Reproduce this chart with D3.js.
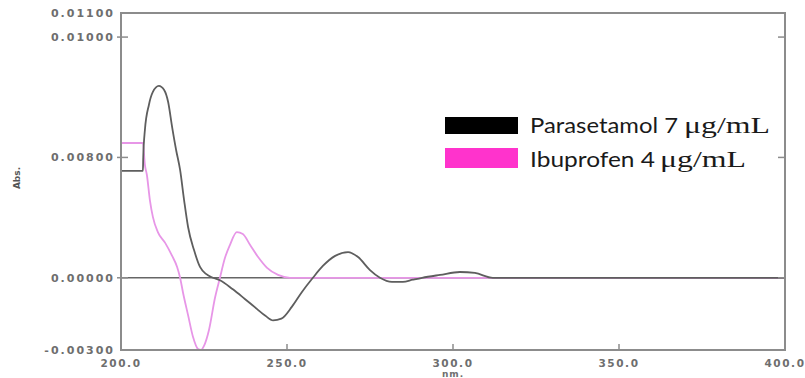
<!DOCTYPE html>
<html><head><meta charset="utf-8">
<script src="https://cdn.jsdelivr.net/npm/d3@7"></script>
<style>body{margin:0;background:#fff}</style>
</head><body><svg id="c" width="805" height="378"></svg>
<script>
const wavelengthTicks=[200,250,300,350,400];
const wavelengthTickLabels=["200.0","250.0","300.0","350.0","400.0"];
const absTicks=[-0.003,0,0.005,0.010,0.011];
const absTickLabels=["-0.00300","0.00000","0.00800","0.01000","0.01100"];
const seriesNames=["Parasetamol 7","Ibuprofen 4"];
const seriesUnits=["μg/mL","μg/mL"];
const seriesColors=["#000000","#ff33cc"];
const paracetamolNm=[200,206.6,206.7,207.2,208.4,209.6,211.4,213.0,214.2,215.4,216.6,217.8,219.0,220.2,222.0,223.8,225.6,227.7,229.8,233.7,237.3,241.0,243.5,245.8,248.3,251.5,254.5,257.8,260.8,264.5,268.4,271.4,275.0,278.0,281.6,284.9,287.9,290.7,296.1,302.1,306.6,312.0,320,340,360,380,400];
const paracetamolAbs=[0.00444,0.00444,0.00500,0.00614,0.00718,0.00772,0.00797,0.00780,0.00730,0.00626,0.00531,0.00448,0.00323,0.00211,0.00115,0.00045,0.00016,0,-0.00010,-0.00048,-0.00088,-0.00130,-0.00158,-0.00177,-0.00170,-0.00120,-0.00059,0,0.00049,0.00091,0.00107,0.00086,0.00032,0,-0.00017,-0.00017,-0.00008,0,0.00012,0.00024,0.00020,0,0,0,0,0,0];
const ibuprofenNm=[200,206.6,207.2,207.8,208.7,209.6,211.1,213.3,215.4,216.9,217.8,218.7,220.2,221.7,223.2,224.1,225.0,226.5,228.3,229.8,231.3,232.8,234.9,236.7,238.9,241.3,244.0,247.3,250.9,260,280,300,320,340,360,380,400];
const ibuprofenAbs=[0.0056,0.0056,0.00469,0.00427,0.00323,0.00253,0.00190,0.00145,0.00091,0.00045,0,-0.00063,-0.00155,-0.00246,-0.00296,-0.00300,-0.00283,-0.00217,-0.00084,0,0.00082,0.00136,0.00190,0.00182,0.00136,0.00086,0.00041,0.00012,0,0,0,0,0,0,0,0,0];

const svg=d3.select("#c");
const L=121,R=785,T=13,B=350;
const x=d3.scaleLinear().domain([200,400]).range([L,R]);
const y=d3.scaleLinear().domain([-0.003,0.011]).range([B,T]);
const tickFont="DejaVu Sans, sans-serif";

svg.append("line").attr("x1",L).attr("x2",R).attr("y1",y(0)).attr("y2",y(0))
  .attr("stroke","#666").attr("stroke-width",1.5);

const line=d3.line().x(d=>x(d[0])).y(d=>y(d[1])).curve(d3.curveMonotoneX);
const ibu=ibuprofenNm.map((v,i)=>[v,ibuprofenAbs[i]]);
const para=paracetamolNm.map((v,i)=>[v,paracetamolAbs[i]]);
svg.append("path").attr("d",line(ibu)).attr("fill","none").attr("stroke","#e796e7").attr("stroke-width",1.8);
svg.append("path").attr("d",line(para)).attr("fill","none").attr("stroke","#5e5e5e").attr("stroke-width",1.8);

svg.append("rect").attr("x",L).attr("y",T).attr("width",R-L).attr("height",B-T)
  .attr("fill","none").attr("stroke","#8c8c8c").attr("stroke-width",2);

const yt=svg.append("g");
absTicks.forEach((v,i)=>{
  if(v!==0.011 && v!==-0.003){
    yt.append("line").attr("x1",L-4).attr("x2",L+7).attr("y1",y(v)).attr("y2",y(v)).attr("stroke","#8c8c8c").attr("stroke-width",1.5);
    yt.append("line").attr("x1",R-7).attr("x2",R).attr("y1",y(v)).attr("y2",y(v)).attr("stroke","#8c8c8c").attr("stroke-width",1.5);
  }
  yt.append("text").attr("x",L-6).attr("y",y(v)).attr("dy","0.35em").attr("text-anchor","end")
    .attr("font-family",tickFont).attr("font-weight","bold").attr("font-size",11).attr("letter-spacing",2)
    .attr("fill","#6e6e6e").text(absTickLabels[i]);
});
wavelengthTicks.forEach((v,i)=>{
  if(v>200&&v<400){
    svg.append("line").attr("x1",x(v)).attr("x2",x(v)).attr("y1",B-6).attr("y2",B).attr("stroke","#8c8c8c").attr("stroke-width",1.5);
  }
  svg.append("text").attr("x",x(v)).attr("y",B+17).attr("text-anchor","middle")
    .attr("font-family",tickFont).attr("font-weight","bold").attr("font-size",10.5).attr("letter-spacing",1.6)
    .attr("fill","#6e6e6e").text(wavelengthTickLabels[i]);
});
svg.append("text").attr("x",x(300)).attr("y",377).attr("text-anchor","middle")
  .attr("font-family",tickFont).attr("font-weight","bold").attr("font-size",9).attr("letter-spacing",1)
  .attr("fill","#6e6e6e").text("nm.");
svg.append("text").attr("transform","translate(20,178) rotate(-90)").attr("text-anchor","middle")
  .attr("font-family",tickFont).attr("font-weight","bold").attr("font-size",9)
  .attr("fill","#555").text("Abs.");

const legendRows=[{ry:117,rh:17,base:133,nameW:148,unitX:684},{ry:148,rh:20,base:167,nameW:125,unitX:660}];
seriesNames.forEach((n,i)=>{
  const r=legendRows[i];
  svg.append("rect").attr("x",445).attr("y",r.ry).attr("width",73).attr("height",r.rh).attr("fill",seriesColors[i]);
  svg.append("text").attr("x",530).attr("y",r.base).attr("font-family","Lato, sans-serif").attr("font-size",22)
    .attr("fill","#1a1a1a").attr("textLength",r.nameW).attr("lengthAdjust","spacingAndGlyphs").text(n);
  svg.append("text").attr("x",r.unitX).attr("y",r.base).attr("font-family","Liberation Serif, serif").attr("font-size",23)
    .attr("fill","#1a1a1a").attr("textLength",86).attr("lengthAdjust","spacingAndGlyphs").text(seriesUnits[i]);
});
</script></body></html>
